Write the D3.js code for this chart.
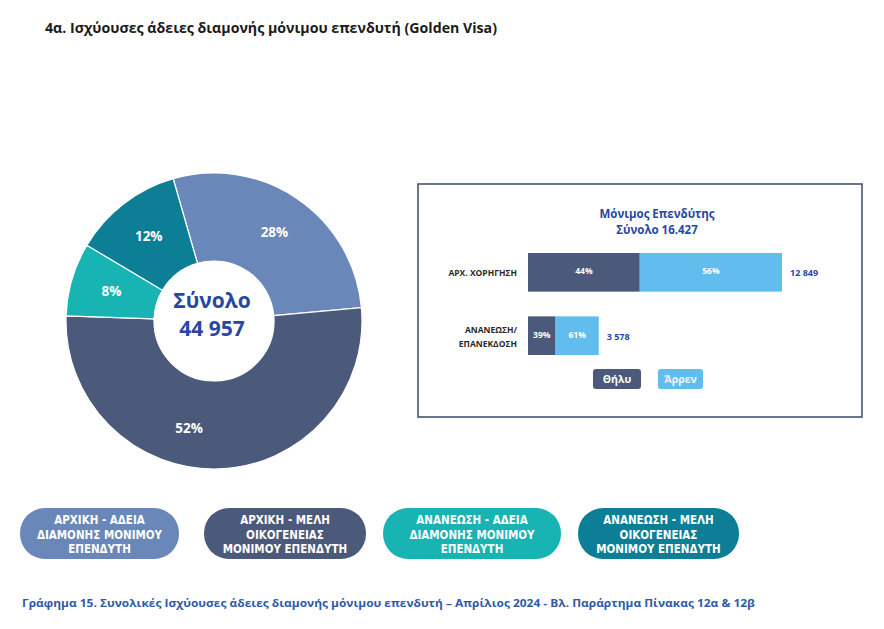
<!DOCTYPE html>
<html><head><meta charset="utf-8">
<script src="https://cdn.jsdelivr.net/npm/d3@7"></script>
<style>html,body{margin:0;padding:0;background:#fff;}svg{display:block;}</style>
</head><body>
<svg id="chart" width="884" height="629"></svg>
<script>
// ---------- data ----------
const title = "4α. Ισχύουσες άδειες διαμονής μόνιμου επενδυτή (Golden Visa)";
const caption = "Γράφημα 15. Συνολικές Ισχύουσες άδειες διαμονής μόνιμου επενδυτή – Απρίλιος 2024 - Βλ. Παράρτημα  Πίνακας 12α & 12β";
const donutCategories = [
  ["ΑΡΧΙΚΗ - ΑΔΕΙΑ", "ΔΙΑΜΟΝΗΣ ΜΟΝΙΜΟΥ", "ΕΠΕΝΔΥΤΗ"],
  ["ΑΡΧΙΚΗ - ΜΕΛΗ", "ΟΙΚΟΓΕΝΕΙΑΣ", "ΜΟΝΙΜΟΥ ΕΠΕΝΔΥΤΗ"],
  ["ΑΝΑΝΕΩΣΗ - ΑΔΕΙΑ", "ΔΙΑΜΟΝΗΣ ΜΟΝΙΜΟΥ", "ΕΠΕΝΔΥΤΗ"],
  ["ΑΝΑΝΕΩΣΗ - ΜΕΛΗ", "ΟΙΚΟΓΕΝΕΙΑΣ", "ΜΟΝΙΜΟΥ ΕΠΕΝΔΥΤΗ"]
];
const donutPercent = [28, 52, 8, 12];
const donutTotalLabel = ["Σύνολο", "44 957"];

const barTitle = ["Μόνιμος Επενδύτης", "Σύνολο 16.427"];
const barCategories = [["ΑΡΧ. ΧΟΡΗΓΗΣΗ"], ["ΑΝΑΝΕΩΣΗ/", "ΕΠΑΝΕΚΔΟΣΗ"]];
const barTotals = [12849, 3578];
const barTotalLabels = ["12 849", "3 578"];
const femalePct = [44, 39];
const malePct = [56, 61];
const genderLabels = ["Θήλυ", "Άρρεν"];

// ---------- style ----------
const donutColors = ["#6987B9", "#4B5A7A", "#18B4B3", "#0C7F97"];
const genderColors = ["#4B5A7A", "#62BDEF"];
const blue = "#2747A3";
const FONT = "'Open Sans', 'Noto Sans', sans-serif";
const NARROW = "'Liberation Sans Narrow', 'DejaVu Sans Condensed', 'Roboto Condensed', sans-serif";

const svg = d3.select("#chart");

// Title
svg.append("text").attr("x", 45).attr("y", 33)
  .attr("font-family", FONT).attr("font-weight", 700).attr("font-size", 15)
  .attr("fill", "#1b1b1b")
  .attr("textLength", 452).attr("lengthAdjust", "spacingAndGlyphs")
  .text(title);

// ---------- donut ----------
const cx = 214, cy = 321, rOuter = 148, rInner = 60;
const deg = Math.PI / 180;
const pie = d3.pie().sort(null).value(d => d)
  .startAngle(-16 * deg).endAngle(344 * deg);
const arcs = pie(donutPercent);
const arc = d3.arc().innerRadius(rInner).outerRadius(rOuter);
const labelArc = d3.arc().innerRadius(104).outerRadius(110);
const labelDx = [0, -28, 0, 0];

const g = svg.append("g").attr("transform", `translate(${cx},${cy})`);
g.selectAll("path.slice").data(arcs).join("path")
  .attr("class", "slice")
  .attr("d", arc)
  .attr("fill", (d, i) => donutColors[i])
  .attr("stroke", "#ffffff").attr("stroke-width", 1.2);

g.selectAll("text.pl").data(arcs).join("text")
  .attr("class", "pl")
  .attr("x", (d, i) => labelArc.centroid(d)[0] + labelDx[i])
  .attr("y", d => labelArc.centroid(d)[1])
  .attr("dy", "0.35em").attr("text-anchor", "middle")
  .attr("font-family", FONT).attr("font-weight", 700).attr("font-size", 13.5)
  .attr("fill", "#ffffff")
  .text(d => d.data + "%");

g.append("text").attr("x", -2).attr("y", -13).attr("text-anchor", "middle")
  .attr("font-family", FONT).attr("font-weight", 700).attr("font-size", 21)
  .attr("fill", blue).text(donutTotalLabel[0]);
g.append("text").attr("x", -2).attr("y", 15).attr("text-anchor", "middle")
  .attr("font-family", FONT).attr("font-weight", 700).attr("font-size", 21)
  .attr("fill", blue).text(donutTotalLabel[1]);

// ---------- bar box ----------
svg.append("rect").attr("x", 418).attr("y", 184).attr("width", 444).attr("height", 233)
  .attr("fill", "#fff").attr("stroke", "#44546F").attr("stroke-width", 1.6);

svg.append("text").attr("x", 657).attr("y", 218).attr("text-anchor", "middle")
  .attr("font-family", FONT).attr("font-weight", 700).attr("font-size", 11.5)
  .attr("fill", blue).text(barTitle[0]);
svg.append("text").attr("x", 657).attr("y", 234).attr("text-anchor", "middle")
  .attr("font-family", FONT).attr("font-weight", 700).attr("font-size", 11.5)
  .attr("fill", blue).text(barTitle[1]);

const x = d3.scaleLinear().domain([0, d3.max(barTotals)]).range([528, 782]);
const y = d3.scaleBand().domain(d3.range(barTotals.length)).range([253, 355]).paddingInner(0.39).paddingOuter(0);

const rows = barTotals.map((t, i) => {
  const f = t * femalePct[i] / 100;
  return {i, segs: [
    {x0: 0, x1: f, pct: femalePct[i], c: genderColors[0]},
    {x0: f, x1: t, pct: malePct[i], c: genderColors[1]}
  ]};
});

const bg = svg.append("g");
rows.forEach(r => {
  r.segs.forEach(s => {
    bg.append("rect")
      .attr("x", x(s.x0)).attr("y", y(r.i))
      .attr("width", x(s.x1) - x(s.x0)).attr("height", y.bandwidth())
      .attr("fill", s.c);
    bg.append("text")
      .attr("x", (x(s.x0) + x(s.x1)) / 2).attr("y", y(r.i) + y.bandwidth() / 2 - 1)
      .attr("dy", "0.35em").attr("text-anchor", "middle")
      .attr("font-family", FONT).attr("font-weight", 700).attr("font-size", 8.5)
      .attr("fill", "#ffffff").text(s.pct + "%");
  });
  // total label
  bg.append("text")
    .attr("x", x(barTotals[r.i]) + 8).attr("y", y(r.i) + y.bandwidth() / 2 + 1)
    .attr("dy", "0.35em")
    .attr("font-family", FONT).attr("font-weight", 700).attr("font-size", 9)
    .attr("fill", blue).text(barTotalLabels[r.i]);
  // category label
  const lines = barCategories[r.i];
  const mid = y(r.i) + y.bandwidth() / 2;
  lines.forEach((ln, k) => {
    bg.append("text")
      .attr("x", 517).attr("y", mid + (k - (lines.length - 1) / 2) * 14 + 1)
      .attr("dy", "0.35em").attr("text-anchor", "end")
      .attr("font-family", FONT).attr("font-weight", 700).attr("font-size", 8.5)
      .attr("fill", "#2a2a2a").text(ln);
  });
});

// gender legend
const legX = [593, 658], legW = [48, 45];
genderLabels.forEach((lbl, i) => {
  svg.append("rect").attr("x", legX[i]).attr("y", 369).attr("width", legW[i]).attr("height", 20)
    .attr("rx", 3).attr("fill", genderColors[i]);
  svg.append("text").attr("x", legX[i] + legW[i] / 2).attr("y", 379).attr("dy", "0.35em")
    .attr("text-anchor", "middle")
    .attr("font-family", FONT).attr("font-weight", 700).attr("font-size", 10.5)
    .attr("fill", i === 0 ? "#ffffff" : "#eaf6fd").text(lbl);
});

// ---------- pill legend ----------
const pillX = [20, 204, 383, 578], pillW = [159, 162, 178, 161];
donutCategories.forEach((lines, i) => {
  svg.append("rect").attr("x", pillX[i]).attr("y", 508).attr("width", pillW[i]).attr("height", 51)
    .attr("rx", 25).attr("fill", donutColors[i]);
  lines.forEach((ln, k) => {
    svg.append("text").attr("x", pillX[i] + pillW[i] / 2).attr("y", 520 + k * 14.5).attr("dy", "0.35em")
      .attr("text-anchor", "middle")
      .attr("font-family", NARROW).attr("font-weight", 700).attr("font-size", 11.5)
      .attr("fill", "#ffffff").text(ln);
  });
});

// caption
svg.append("text").attr("x", 22).attr("y", 607)
  .attr("font-family", FONT).attr("font-weight", 700).attr("font-size", 11)
  .attr("fill", "#2E5AA8")
  .attr("textLength", 733).attr("lengthAdjust", "spacingAndGlyphs")
  .text(caption);
</script>
</body></html>
